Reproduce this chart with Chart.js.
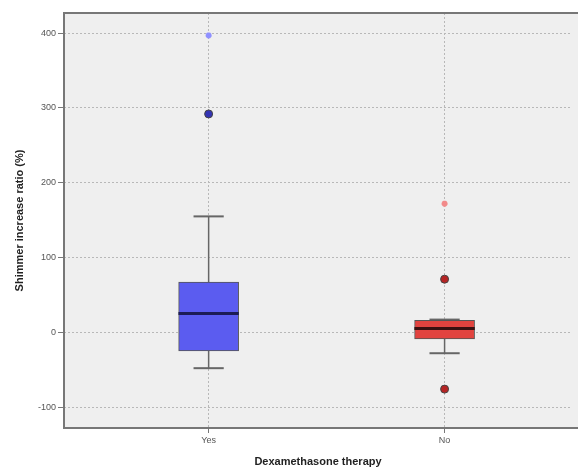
<!DOCTYPE html>
<html lang="en">
<head>
    <meta charset="UTF-8">
    <title>Shimmer increase ratio</title>
    <style>
        body {
            margin: 0;
            background-color: white;
        }
        #wrap {
            width: 578px;
            height: 473px;
        }
    </style>
</head>
<body>
    <div id="wrap">
        <canvas id="grafico"></canvas>
    </div>

    <script src="https://cdn.jsdelivr.net/npm/chart.js@4"></script>
    <script>
        // dados
        const groups = ['Yes', 'No'];
        const q1 = [-25, -9];
        const medians = [25, 5];
        const q3 = [67, 16];
        const whiskerLow = [-48, -28];
        const whiskerHigh = [155, 17];
        const outliers = [[292], [71, -76]];
        const extremes = [[397], [172]];
        const yTicks = [-100, 0, 100, 200, 300, 400];

        const boxColors = ['#5b5cf0', '#e2433f'];
        const medianColors = ['#1c1c55', '#3a1010'];
        const outlierColors = ['#3434b4', '#b52424'];
        const extremeColors = ['#8f90ff', '#f28a8a'];

        const capHalf = 0.064;
        const boxHalf = 0.128;

        const datasets = [];

        // caixas (uma so serie de barras flutuantes)
        datasets.push({
            type: 'bar',
            data: groups.map((g, i) => ({ x: i + 1, y: [q1[i], q3[i]] })),
            backgroundColor: boxColors,
            borderColor: '#555',
            borderWidth: 1,
            borderSkipped: false,
            barThickness: 60,
            grouped: false,
            order: 5
        });

        groups.forEach((g, i) => {
            const x = i + 1;
            // bigode vertical
            datasets.push({
                type: 'line',
                data: [{ x: x, y: whiskerLow[i] }, { x: x, y: whiskerHigh[i] }],
                borderColor: '#666',
                borderWidth: 1.5,
                pointRadius: 0,
                order: 10
            });
            // tampas
            [whiskerLow[i], whiskerHigh[i]].forEach(v => {
                datasets.push({
                    type: 'line',
                    data: [{ x: x - capHalf, y: v }, { x: x + capHalf, y: v }],
                    borderColor: '#666',
                    borderWidth: 2,
                    pointRadius: 0,
                    order: 10
                });
            });
            // mediana
            datasets.push({
                type: 'line',
                data: [{ x: x - boxHalf, y: medians[i] }, { x: x + boxHalf, y: medians[i] }],
                borderColor: medianColors[i],
                borderWidth: 3,
                pointRadius: 0,
                order: 2
            });
            // outliers
            datasets.push({
                type: 'line',
                showLine: false,
                data: outliers[i].map(v => ({ x: x, y: v })),
                pointRadius: 4,
                pointBackgroundColor: outlierColors[i],
                pointBorderColor: '#444',
                pointBorderWidth: 1,
                order: 1
            });
            datasets.push({
                type: 'line',
                showLine: false,
                data: extremes[i].map(v => ({ x: x, y: v })),
                pointStyle: 'star',
                pointRadius: 3,
                pointBorderColor: extremeColors[i],
                pointBorderWidth: 2,
                order: 1
            });
        });

        // fundo cinza e moldura ate a borda direita
        const fundoPlugin = {
            id: 'fundo',
            beforeDraw(chart) {
                const { ctx, chartArea: a } = chart;
                ctx.save();
                ctx.fillStyle = '#efefef';
                ctx.fillRect(a.left, a.top, chart.width - a.left, a.bottom - a.top);
                ctx.restore();
            },
            afterDraw(chart) {
                const { ctx, chartArea: a } = chart;
                ctx.save();
                ctx.strokeStyle = '#777';
                ctx.lineWidth = 2;
                ctx.strokeRect(a.left, a.top, chart.width - a.left + 4, a.bottom - a.top);
                ctx.restore();
            }
        };

        new Chart(document.getElementById('grafico'), {
            type: 'bar',
            data: { datasets: datasets },
            plugins: [fundoPlugin],
            options: {
                responsive: true,
                maintainAspectRatio: false,
                animation: false,
                layout: { padding: { top: 13, right: 0, left: 0, bottom: 0 } },
                plugins: {
                    legend: { display: false },
                    tooltip: { enabled: false }
                },
                scales: {
                    x: {
                        type: 'linear',
                        min: 0.387,
                        max: 2.54,
                        offset: false,
                        afterBuildTicks: s => { s.ticks = [{ value: 1 }, { value: 2 }]; },
                        afterFit: s => { s.height = 45; },
                        ticks: {
                            callback: v => groups[v - 1],
                            font: { family: 'Liberation Sans', size: 9 },
                            color: '#555',
                            padding: 2,
                            maxRotation: 0
                        },
                        grid: {
                            offset: false,
                            color: '#b8b8b8',
                            tickColor: '#777',
                            tickLength: 5
                        },
                        border: { display: false, dash: [2, 2] },
                        title: {
                            display: true,
                            text: 'Dexamethasone therapy',
                            font: { family: 'Liberation Sans', size: 11, weight: 'bold' },
                            color: '#222',
                            padding: { top: 4, bottom: 4 }
                        }
                    },
                    y: {
                        min: -128,
                        max: 427,
                        afterBuildTicks: s => { s.ticks = yTicks.map(v => ({ value: v })); },
                        afterFit: s => { s.width = 64; },
                        ticks: {
                            font: { family: 'Liberation Sans', size: 9 },
                            color: '#555',
                            padding: 2
                        },
                        grid: {
                            color: '#b8b8b8',
                            tickColor: '#777',
                            tickLength: 6
                        },
                        border: { display: false, dash: [2, 2] },
                        title: {
                            display: true,
                            text: 'Shimmer increase ratio (%)',
                            font: { family: 'Liberation Sans', size: 11, weight: 'bold' },
                            color: '#222',
                            padding: { top: 13, bottom: 0 }
                        }
                    }
                }
            }
        });
    </script>
</body>
</html>
